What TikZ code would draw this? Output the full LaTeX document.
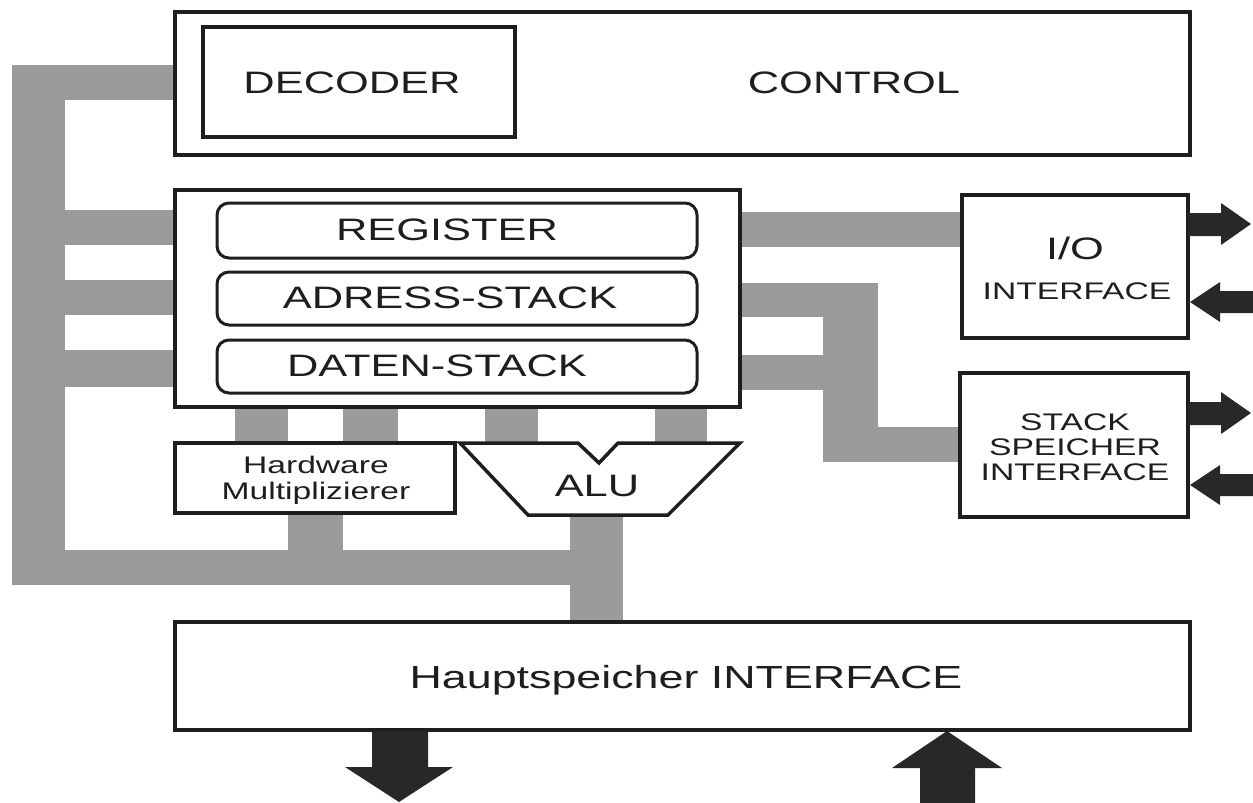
\documentclass[tikz,border=0pt]{standalone}
\usepackage{fontspec}
\setmainfont{Liberation Sans}
\usepackage{graphicx}
\definecolor{busgray}{RGB}{155,155,155}
\definecolor{ink}{RGB}{30,30,30}
\definecolor{arrowink}{RGB}{40,40,40}
\newcommand{\W}[1]{\scalebox{1.4}[1]{#1}}
\tikzset{
  box/.style={draw=ink, line width=3.5pt, fill=white, inner sep=0pt, rectangle},
  rbox/.style={draw=ink, line width=3pt, fill=white, inner sep=0pt, rounded corners=12pt, rectangle},
  big/.style={font=\fontsize{31}{34}\selectfont, text=ink, inner sep=0pt},
  small/.style={font=\fontsize{24}{27}\selectfont, text=ink, inner sep=0pt, align=center},
  bus/.style={fill=busgray, draw=none},
  blockarrow/.style={fill=arrowink, draw=none}
}
\begin{document}
\begin{tikzpicture}[x=1pt,y=-1pt]
\useasboundingbox (0,0) rectangle (1253,803);
\fill[white] (0,0) rectangle (1253,803);

% ---------- buses (background) ----------
% left bus
\fill[bus] (12,65) rectangle (175,100);
\fill[bus] (12,65) rectangle (65,585);
\fill[bus] (65,210) rectangle (175,245);
\fill[bus] (65,280) rectangle (175,315);
\fill[bus] (65,350) rectangle (175,387);
\fill[bus] (12,550) rectangle (623,585);
\fill[bus] (288,510) rectangle (343,552);
\fill[bus] (570,512) rectangle (623,624);
% stubs between register block and multiplier / ALU
\fill[bus] (235,402) rectangle (288,446);
\fill[bus] (343,402) rectangle (398,446);
\fill[bus] (485,402) rectangle (538,446);
\fill[bus] (655,402) rectangle (707,446);
% right bus
\fill[bus] (738,212) rectangle (964,247);
\fill[bus] (738,283) rectangle (878,317);
\fill[bus] (738,355) rectangle (823,390);
\fill[bus] (823,283) rectangle (878,462);
\fill[bus] (823,427) rectangle (962,462);

% ---------- boxes ----------
\node[box, minimum width=1015pt, minimum height=143pt] (control) at (682.5,83.5) {};
\node[box, minimum width=312pt, minimum height=110pt] (decoder) at (359,82) {};
\node[big] (decodertxt) at (352,83) {\W{DECODER}};
\node[big] (controltxt) at (854,83) {\W{CONTROL}};

\node[box, minimum width=565pt, minimum height=217pt] (regblock) at (457.5,298.5) {};
\node[rbox, minimum width=480pt, minimum height=55pt] (register) at (457,230.5) {};
\node[rbox, minimum width=480pt, minimum height=53pt] (adress) at (457,298.5) {};
\node[rbox, minimum width=480pt, minimum height=53pt] (daten) at (457,366.5) {};
\node[big] (registertxt) at (447,230) {\W{REGISTER}};
\node[big] (adresstxt) at (450,298) {\W{ADRESS-STACK}};
\node[big] (datentxt) at (437,366) {\W{DATEN-STACK}};

\node[box, minimum width=280pt, minimum height=70pt] (mult) at (315,478) {};
\node[small] (multtxt) at (316,480) {\W{Hardware}\\[-1pt]\W{Multiplizierer}};

\draw[ink, line width=3.5pt, fill=white, line join=miter]
  (460,443) -- (578,443) -- (599,463) -- (618,443) -- (740,443) -- (668,515) -- (528,515) -- cycle;
\node[big] (alu) at (597,486) {\W{ALU}};

\node[box, minimum width=226pt, minimum height=143pt] (io) at (1075,266.5) {};
\node[big] (iotxt) at (1075,248) {\W{I/O}};
\node[small] (iotxt2) at (1077,291) {\W{INTERFACE}};

\node[box, minimum width=228pt, minimum height=144pt] (stk) at (1074,445) {};
\node[small] (stktxt) at (1075,447) {\W{STACK}\\[-2pt]\W{SPEICHER}\\[-2pt]\W{INTERFACE}};

\node[box, minimum width=1015pt, minimum height=108pt] (haupt) at (682.5,676) {};
\node[big, font=\fontsize{32}{34}\selectfont] (haupttxt) at (686,680) {\W{Hauptspeicher INTERFACE}};

% ---------- block arrows ----------
% I/O out
\fill[blockarrow] (1188,213) -- (1221,213) -- (1221,203) -- (1251,224) -- (1221,245) -- (1221,236) -- (1188,236) -- cycle;
% I/O in
\fill[blockarrow] (1253,291) -- (1220,291) -- (1220,282) -- (1190,302) -- (1220,322) -- (1220,313) -- (1253,313) -- cycle;
% stack out
\fill[blockarrow] (1188,402) -- (1221,402) -- (1221,392) -- (1251,413) -- (1221,434) -- (1221,425) -- (1188,425) -- cycle;
% stack in
\fill[blockarrow] (1253,474) -- (1220,474) -- (1220,465) -- (1190,485) -- (1220,505) -- (1220,496) -- (1253,496) -- cycle;
% Hauptspeicher out (down)
\fill[blockarrow] (372,731) -- (428,731) -- (428,767) -- (453,767) -- (399,802) -- (345,767) -- (372,767) -- cycle;
% Hauptspeicher in (up)
\fill[blockarrow] (920,803) -- (975,803) -- (975,768) -- (1002,768) -- (947,731) -- (892,768) -- (920,768) -- cycle;
\end{tikzpicture}
\end{document}
